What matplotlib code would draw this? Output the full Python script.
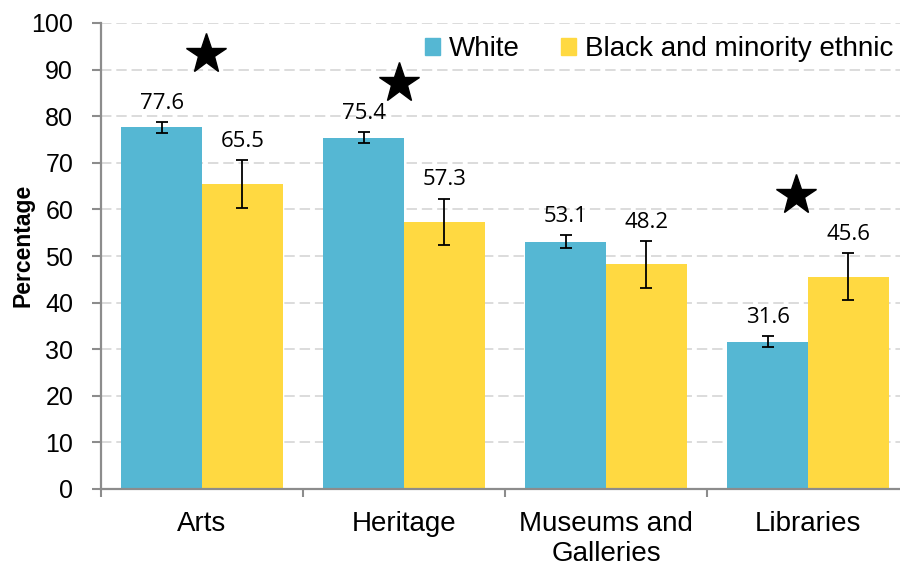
import numpy as np
import matplotlib as mpl; mpl.use('Agg')
import matplotlib.pyplot as plt
from matplotlib.patches import Patch

mpl.rcParams.update({'font.family': ['Liberation Sans', 'DejaVu Sans'], 'lines.scale_dashes': False})

# participation by sector, % with 95% CI half-widths
categories = ['Arts', 'Heritage', 'Museums and\nGalleries', 'Libraries']
white = [77.6, 75.4, 53.1, 31.6]
white_err = [1.1, 1.2, 1.3, 1.2]
bme = [65.5, 57.3, 48.2, 45.6]
bme_err = [5.1, 5.0, 5.0, 5.0]
# significant-difference markers
star_pos = [0.02, 0.975, 2.94]
star_y = [93.4, 87.2, 63.0]

BLUE = '#55B7D3'; YELLOW = '#FFD941'; AXC = '#8C8C8C'

fig = plt.figure(figsize=(9, 5.64), dpi=100)
ax = fig.add_axes([101/900, 75/564, 808/900, 466/564])
x = np.arange(len(categories)); w = 0.4

ax.bar(x - w/2, white, w, color=BLUE, zorder=2)
ax.bar(x + w/2, bme, w, color=YELLOW, zorder=2)
ax.errorbar(x - w/2, white, yerr=white_err, fmt='none', ecolor='black', elinewidth=1.3, capsize=4.3, capthick=1.3, zorder=3)
ax.errorbar(x + w/2, bme, yerr=bme_err, fmt='none', ecolor='black', elinewidth=1.3, capsize=4.3, capthick=1.3, zorder=3)

for xs, vals, errs in [(x - w/2, white, white_err), (x + w/2, bme, bme_err)]:
    for xi, v, e in zip(xs, vals, errs):
        ax.annotate(f'{v:.1f}', xy=(xi, v + e), xytext=(0, 6), textcoords='offset points',
                    ha='center', va='bottom', fontsize=16, family=['Open Sans', 'DejaVu Sans'])

ax.plot(star_pos, star_y, ls='none', marker='*', ms=30, color='black', zorder=4)

ax.set_xlim(-0.5, 3.5); ax.set_ylim(0, 100)
ax.set_yticks(np.arange(0, 101, 10))
ax.yaxis.grid(True, color='#D9D9D9', lw=1.3, linestyle=(0, (7.5, 3.5)), zorder=0)
ax.set_axisbelow(True)
ax.set_xticks(x); ax.set_xticklabels(categories)
ax.set_xticks(np.arange(-0.5, 3.6, 1), minor=True)
ax.tick_params(axis='x', which='major', length=0, pad=16, labelsize=20)
ax.tick_params(axis='x', which='minor', length=6, width=1.5, color=AXC, direction='out')
ax.tick_params(axis='y', length=6.5, width=1.5, color=AXC, pad=13.5, labelsize=18)
for s in ['top', 'right']: ax.spines[s].set_visible(False)
for s in ['left', 'bottom']: ax.spines[s].set_color(AXC); ax.spines[s].set_linewidth(1.6)

fig.text(23/900, 1 - 245/564, 'Percentage', rotation=90, ha='center', va='center', fontsize=16.5, fontweight='bold')

handles = [Patch(color=BLUE), Patch(color=YELLOW)]
fig.legend(handles, ['White', 'Black and minority ethnic'], ncol=2, frameon=False, fontsize=20,
           loc='center right', bbox_to_anchor=(893/900, 1 - 49/564), borderaxespad=0, borderpad=0,
           handlelength=0.55, handleheight=0.55, handletextpad=0.3, columnspacing=1.5)

fig.savefig('out.png', dpi=100)
